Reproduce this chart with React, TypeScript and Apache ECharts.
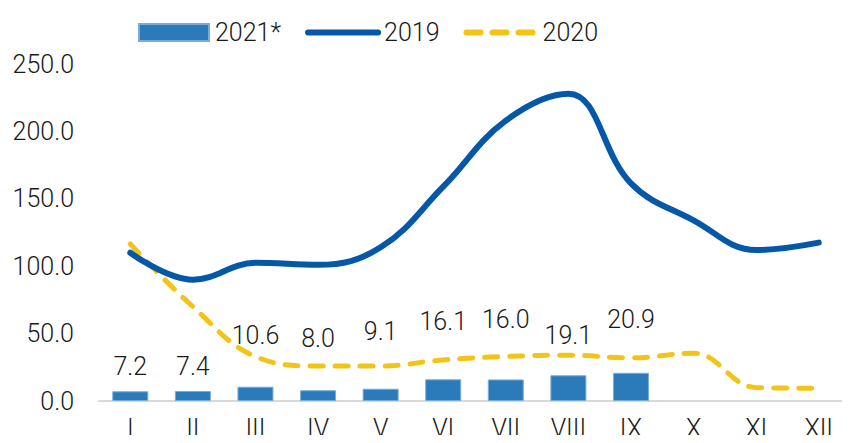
import React, { useEffect, useRef } from "react";
import * as echarts from "echarts";

const months = ["I", "II", "III", "IV", "V", "VI", "VII", "VIII", "IX", "X", "XI", "XII"];
const values2021 = [7.2, 7.4, 10.6, 8.0, 9.1, 16.1, 16.0, 19.1, 20.9, null, null, null];
const values2019 = [110, 90, 102.5, 101, 114, 159, 208, 228, 161.5, 134, 112, 117.5];
const values2020 = [116.5, 70, 33, 26, 26, 30.5, 33, 34, 32, 35.5, 10, 9.5];
const yTicks = [0, 50, 100, 150, 200, 250];

// pixel lift of each bar label's centre above its bar (manual placement as in the source)
const labelLift = [28, 28, 55, 55, 61, 61, 63, 43, 57];

const FONT = "Roboto";
const C2019 = "#0558A8";
const C2020 = "#F2C417";

export default function App() {
  const ref = useRef<HTMLDivElement>(null);
  useEffect(() => {
    if (!ref.current) return;
    const chart = echarts.init(ref.current, null, { renderer: "svg" });
    chart.setOption({
      animation: false,
      backgroundColor: "#ffffff",
      textStyle: { fontFamily: FONT, fontWeight: 300 },
      legend: {
        top: 15,
        left: 133,
        itemWidth: 70,
        itemHeight: 17,
        itemGap: 24,
        textStyle: { fontFamily: FONT, fontWeight: 300, fontSize: 25, color: "#1a1a1a", padding: [0, 0, 0, 1] },
        data: [
          { name: "2021*", icon: "rect" },
          {
            name: "2019",
            itemStyle: { opacity: 0 },
            lineStyle: { color: C2019, width: 6, cap: "round", type: "solid" },
          },
          {
            name: "2020",
            itemStyle: { opacity: 0 },
            lineStyle: { color: C2020, width: 6, cap: "round", type: [14, 12] },
          },
        ],
      },
      grid: { left: 99, right: -8, top: 64, bottom: 42, containLabel: false },
      xAxis: {
        type: "category",
        data: months,
        axisLine: { lineStyle: { color: "#d9d9d9", width: 2 } },
        axisTick: { show: false },
        axisLabel: { fontFamily: FONT, fontWeight: 300, fontSize: 25, color: "#1a1a1a", margin: 15 },
      },
      yAxis: {
        type: "value",
        min: yTicks[0],
        max: yTicks[yTicks.length - 1],
        interval: 50,
        splitLine: { show: false },
        axisLine: { show: false },
        axisTick: { show: false },
        axisLabel: {
          fontFamily: FONT,
          fontWeight: 300,
          fontSize: 25,
          color: "#1a1a1a",
          margin: 25,
          formatter: (v: number) => v.toFixed(1),
        },
      },
      series: [
        {
          name: "2021*",
          type: "bar",
          barWidth: 36,
          z: 1,
          itemStyle: { color: "#2B7BBA", borderColor: "#79ACDA", borderWidth: 1 },
          data: values2021.map((v, i) =>
            v === null
              ? "-"
              : {
                  value: v,
                  label: {
                    show: true,
                    position: "top",
                    distance: labelLift[i] - 16,
                    formatter: (p: any) => Number(p.value).toFixed(1),
                    fontFamily: FONT,
                    fontWeight: 300,
                    fontSize: 25,
                    color: "#1a1a1a",
                  },
                }
          ),
        },
        {
          name: "2019",
          type: "line",
          smooth: 0.4,
          symbol: "none",
          z: 3,
          lineStyle: { color: C2019, width: 6, cap: "round" },
          itemStyle: { color: C2019 },
          data: values2019,
        },
        {
          name: "2020",
          type: "line",
          smooth: 0.4,
          symbol: "none",
          z: 2,
          lineStyle: { color: C2020, width: 5, type: [13, 12], cap: "round" },
          itemStyle: { color: C2020 },
          data: values2020,
        },
      ],
    });
    return () => chart.dispose();
  }, []);
  return <div ref={ref} style={{ width: 850, height: 443, margin: -8 }} />;
}
